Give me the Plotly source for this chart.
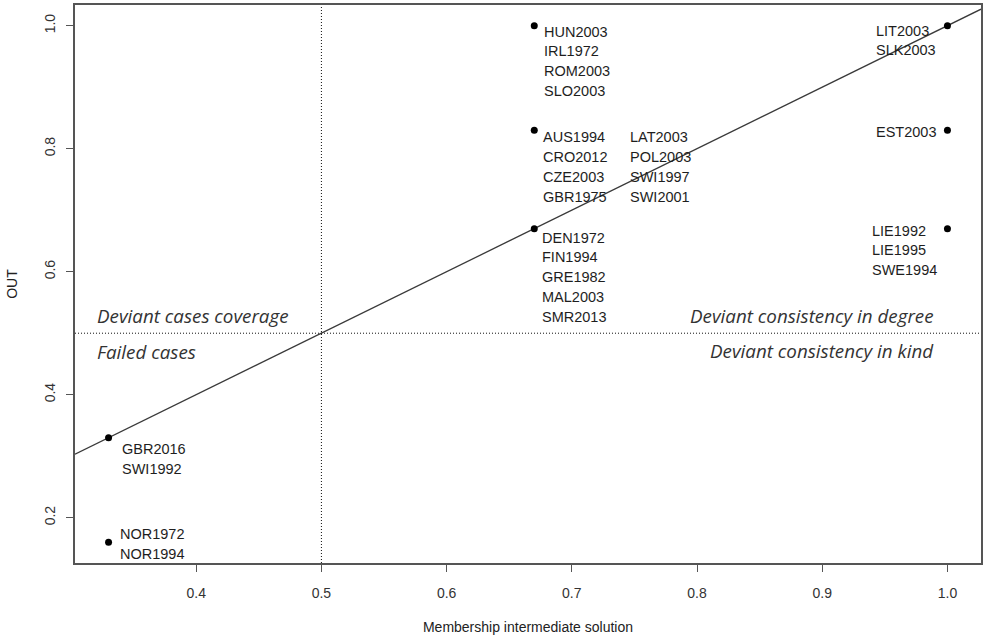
import plotly.graph_objects as go

# Case memberships in the intermediate solution and outcome scores
membership = [0.33, 0.33, 0.67, 0.67, 0.67, 1.0, 1.0, 1.0]
outcome = [0.33, 0.16, 1.0, 0.83, 0.67, 1.0, 0.83, 0.67]
case_labels = [
    ["GBR2016", "SWI1992"],
    ["NOR1972", "NOR1994"],
    ["HUN2003", "IRL1972", "ROM2003", "SLO2003"],
    ["AUS1994", "CRO2012", "CZE2003", "GBR1975", "LAT2003", "POL2003", "SWI1997", "SWI2001"],
    ["DEN1972", "FIN1994", "GRE1982", "MAL2003", "SMR2013"],
    ["LIT2003", "SLK2003"],
    ["EST2003"],
    ["LIE1992", "LIE1995", "SWE1994"],
]

# Diagonal reference line y = a + b*x and the 0.5 thresholds
diag_intercept = 0.0
diag_slope = 1.0
threshold = 0.5

x_ticks = [0.4, 0.5, 0.6, 0.7, 0.8, 0.9, 1.0]
y_ticks = [0.2, 0.4, 0.6, 0.8, 1.0]

# Quadrant descriptions
quadrant_text = {
    "top_left": "Deviant cases coverage",
    "bottom_left": "Failed cases",
    "top_right": "Deviant consistency in degree",
    "bottom_right": "Deviant consistency in kind",
}

# R-style 4% padding around the data range
def padded(vals, frac=0.04):
    lo, hi = min(vals), max(vals)
    pad = (hi - lo) * frac
    return [lo - pad, hi + pad]

x_range = padded(membership)
y_range = padded(outcome)

fig = go.Figure()

# diagonal
fig.add_trace(go.Scatter(
    x=x_range,
    y=[diag_intercept + diag_slope * v for v in x_range],
    mode="lines",
    line=dict(color="#3a3a3a", width=1.3),
    hoverinfo="skip",
    showlegend=False,
))

# cases
fig.add_trace(go.Scatter(
    x=membership, y=outcome, mode="markers",
    marker=dict(color="black", size=7),
    showlegend=False,
))

# dotted thresholds
dotted = dict(color="#111111", width=1, dash="1px,2px")
fig.add_shape(type="line", xref="x", yref="paper", x0=threshold, x1=threshold, y0=0, y1=1, line=dotted)
fig.add_shape(type="line", xref="paper", yref="y", x0=0, x1=1, y0=threshold, y1=threshold, line=dotted)

# label placement per point: (x shift, y shift of first line) in px, and rows per column
label_offsets = [(11, -11), (9, 8), (8, -6), (7, -7), (6, -9), (-73, -5), (-73, -2), (-77, -2)]
rows_per_col = [2, 2, 4, 4, 5, 2, 1, 3]
col_gap = 87
line_step = 19.8
label_font = dict(family="Liberation Sans, Arial, sans-serif", size=14.5, color="#1e1e1e")

annotations = []
for px, py, names, (dx, dy), per_col in zip(membership, outcome, case_labels, label_offsets, rows_per_col):
    for i, name in enumerate(names):
        col, row = divmod(i, per_col)
        annotations.append(dict(
            x=px, y=py, xref="x", yref="y", text=name, showarrow=False,
            xanchor="left", yanchor="middle",
            xshift=dx + col * col_gap, yshift=dy - row * line_step,
            font=label_font,
        ))

quad_font = dict(family="Open Sans, sans-serif", size=18.8, color="#333333")
annotations += [
    dict(x=0.022, y=threshold, xref="paper", yref="y", text="<i>" + quadrant_text["top_left"] + "</i>",
         showarrow=False, xanchor="left", yanchor="middle", yshift=17, font=quad_font),
    dict(x=0.022, y=threshold, xref="paper", yref="y", text="<i>" + quadrant_text["bottom_left"] + "</i>",
         showarrow=False, xanchor="left", yanchor="middle", yshift=-19, font=quad_font),
    dict(x=0.9504, y=threshold, xref="paper", yref="y", text="<i>" + quadrant_text["top_right"] + "</i>",
         showarrow=False, xanchor="right", yanchor="middle", yshift=17, font=quad_font),
    dict(x=0.9504, y=threshold, xref="paper", yref="y", text="<i>" + quadrant_text["bottom_right"] + "</i>",
         showarrow=False, xanchor="right", yanchor="middle", yshift=-18, font=quad_font),
]

axis_font = dict(family="Liberation Sans, Arial, sans-serif", size=14, color="#333333")
title_font = dict(family="Liberation Sans, Arial, sans-serif", size=14, color="#222222")
axis_common = dict(
    showline=True, mirror=True, linecolor="#555555", linewidth=1.5,
    ticks="outside", ticklen=7, tickwidth=1.3, tickcolor="#555555",
    showgrid=False, zeroline=False, tickfont=axis_font,
)

fig.update_layout(
    width=984, height=638,
    margin=dict(l=75, r=1, t=5, b=75),
    paper_bgcolor="white", plot_bgcolor="white",
    annotations=annotations,
    xaxis=dict(range=x_range, tickvals=x_ticks, ticktext=[f"{v:.1f}" for v in x_ticks],
               ticklabelstandoff=9,
               title=dict(text="Membership intermediate solution", font=title_font, standoff=23),
               **axis_common),
    yaxis=dict(range=y_range, tickvals=y_ticks, ticktext=[f"{v:.1f}" for v in y_ticks],
               tickangle=-90, ticklabelstandoff=6,
               title=dict(text="OUT", font=title_font, standoff=21),
               **axis_common),
)

fig.write_html("out.html")
